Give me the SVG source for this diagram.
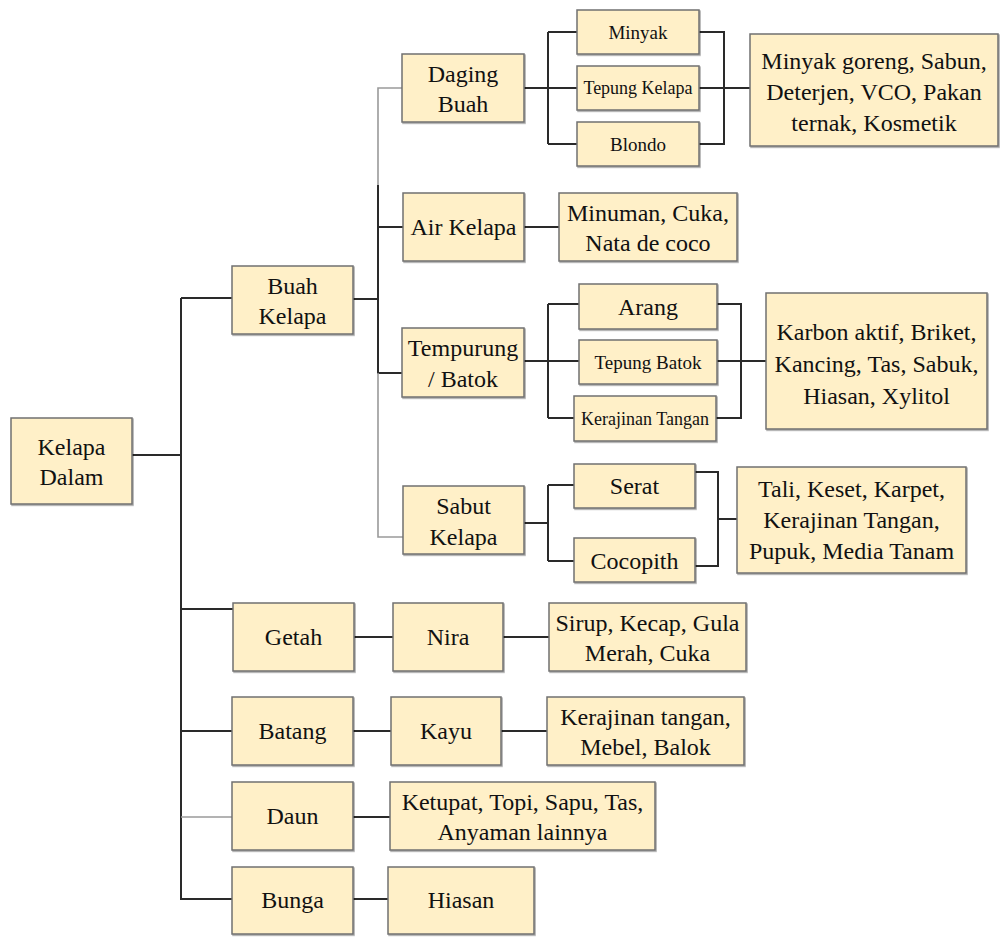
<svg xmlns="http://www.w3.org/2000/svg" width="1002" height="945" viewBox="0 0 1002 945">
<defs>
<filter id="sh" x="-5%" y="-5%" width="115%" height="120%">
<feDropShadow dx="1" dy="1.2" stdDeviation="0.7" flood-color="#000" flood-opacity="0.35"/>
</filter>
<style>
.box{fill:#FFF0C8;stroke:#707070;stroke-width:1.5;filter:url(#sh)}
text{font-family:"Liberation Serif","Times New Roman",serif;font-size:24px;fill:#111;text-anchor:middle}
.s19{font-size:19px}
.s18{font-size:18px}
.c{fill:none;stroke:#2a2a2a;stroke-width:2}
.g{fill:none;stroke:#9a9a9a;stroke-width:1.6}
</style>
</defs>
<rect width="1002" height="945" fill="#fff"/>
<g id="connectors">
<!-- trunk -->
<path class="c" d="M132 455H181M181 298V899H232M181 298H232M181 609H233M181 731H232"/>
<path class="g" d="M181 817H232"/>
<!-- buah kelapa branch -->
<path class="c" d="M353 299H378M378 185V373H402M378 227H403"/>
<path class="g" d="M402 88H378V185M378 373V537H403"/>
<!-- daging buah -->
<path class="c" d="M524 88H548M548 32V144M548 32H577M548 88H577M548 144H577M699 32H724V144H699M699 88H750"/>
<path class="c" stroke-width="3.5" d="M532 88H548"/>
<!-- air kelapa -->
<path class="c" d="M524 227H559"/>
<!-- tempurung -->
<path class="c" d="M524 361H548M548 304V418M548 304H579M548 361H579M548 418H574M717 304H741V418H716M717 361H766"/>
<!-- sabut -->
<path class="c" d="M524 523H548M548 485V561M548 485H574M548 561H574M695 472H718V566H695M718 519H737"/>
<!-- getah, batang, daun, bunga -->
<path class="c" d="M354 637H393M503 637H549M353 731H391M501 731H547M353 817H390M353 899H388"/>
</g>
<g id="kelapa-dalam"><rect class="box" x="11" y="418" width="121" height="86"/><text x="71.5" y="455">Kelapa</text><text x="71.5" y="485">Dalam</text></g>
<g id="buah-kelapa"><rect class="box" x="232" y="266" width="121" height="68"/><text x="292.5" y="294">Buah</text><text x="292.5" y="324">Kelapa</text></g>
<g id="daging-buah"><rect class="box" x="402" y="54" width="122" height="68"/><text x="463" y="82">Daging</text><text x="463" y="112">Buah</text></g>
<g id="minyak"><rect class="box" x="577" y="10" width="122" height="44"/><text class="s19" x="638" y="39">Minyak</text></g>
<g id="tepung-kelapa"><rect class="box" x="577" y="66" width="122" height="44"/><text class="s18" x="638" y="94">Tepung Kelapa</text></g>
<g id="blondo"><rect class="box" x="577" y="122" width="122" height="44"/><text class="s19" x="638" y="151">Blondo</text></g>
<g id="produk-daging"><rect class="box" x="750" y="34" width="248" height="112"/><text x="874" y="69">Minyak goreng, Sabun,</text><text x="874" y="100">Deterjen, VCO, Pakan</text><text x="874" y="131">ternak, Kosmetik</text></g>
<g id="air-kelapa"><rect class="box" x="403" y="193" width="121" height="68"/><text x="463.5" y="235">Air Kelapa</text></g>
<g id="produk-air"><rect class="box" x="559" y="193" width="178" height="68"/><text x="648" y="221">Minuman, Cuka,</text><text x="648" y="251">Nata de coco</text></g>
<g id="tempurung"><rect class="box" x="402" y="328" width="122" height="69"/><text x="463" y="356">Tempurung</text><text x="463" y="387">/ Batok</text></g>
<g id="arang"><rect class="box" x="579" y="284" width="138" height="45"/><text x="648" y="315">Arang</text></g>
<g id="tepung-batok"><rect class="box" x="579" y="340" width="138" height="44"/><text class="s19" x="648" y="369">Tepung Batok</text></g>
<g id="kerajinan-tangan"><rect class="box" x="574" y="396" width="142" height="45"/><text class="s18" x="645" y="425">Kerajinan Tangan</text></g>
<g id="produk-tempurung"><rect class="box" x="766" y="293" width="221" height="136"/><text x="876.5" y="340">Karbon aktif, Briket,</text><text x="876.5" y="372">Kancing, Tas, Sabuk,</text><text x="876.5" y="404">Hiasan, Xylitol</text></g>
<g id="sabut-kelapa"><rect class="box" x="403" y="486" width="121" height="68"/><text x="463.5" y="514">Sabut</text><text x="463.5" y="545">Kelapa</text></g>
<g id="serat"><rect class="box" x="574" y="464" width="121" height="44"/><text x="634.5" y="494">Serat</text></g>
<g id="cocopith"><rect class="box" x="574" y="538" width="121" height="44"/><text x="634.5" y="569">Cocopith</text></g>
<g id="produk-sabut"><rect class="box" x="737" y="467" width="229" height="106"/><text x="851.5" y="497">Tali, Keset, Karpet,</text><text x="851.5" y="528">Kerajinan Tangan,</text><text x="851.5" y="559">Pupuk, Media Tanam</text></g>
<g id="getah"><rect class="box" x="233" y="603" width="121" height="68"/><text x="293.5" y="645">Getah</text></g>
<g id="nira"><rect class="box" x="393" y="603" width="110" height="68"/><text x="448" y="645">Nira</text></g>
<g id="produk-nira"><rect class="box" x="549" y="603" width="197" height="68"/><text x="647.5" y="631">Sirup, Kecap, Gula</text><text x="647.5" y="661">Merah, Cuka</text></g>
<g id="batang"><rect class="box" x="232" y="697" width="121" height="68"/><text x="292.5" y="739">Batang</text></g>
<g id="kayu"><rect class="box" x="391" y="697" width="110" height="68"/><text x="446" y="739">Kayu</text></g>
<g id="produk-kayu"><rect class="box" x="547" y="697" width="197" height="68"/><text x="645.5" y="725">Kerajinan tangan,</text><text x="645.5" y="755">Mebel, Balok</text></g>
<g id="daun"><rect class="box" x="232" y="782" width="121" height="68"/><text x="292.5" y="824">Daun</text></g>
<g id="produk-daun"><rect class="box" x="390" y="782" width="265" height="68"/><text x="522.5" y="810">Ketupat, Topi, Sapu, Tas,</text><text x="522.5" y="840">Anyaman lainnya</text></g>
<g id="bunga"><rect class="box" x="232" y="867" width="121" height="67"/><text x="292.5" y="908">Bunga</text></g>
<g id="hiasan"><rect class="box" x="388" y="867" width="146" height="67"/><text x="461" y="908">Hiasan</text></g>
</svg>
